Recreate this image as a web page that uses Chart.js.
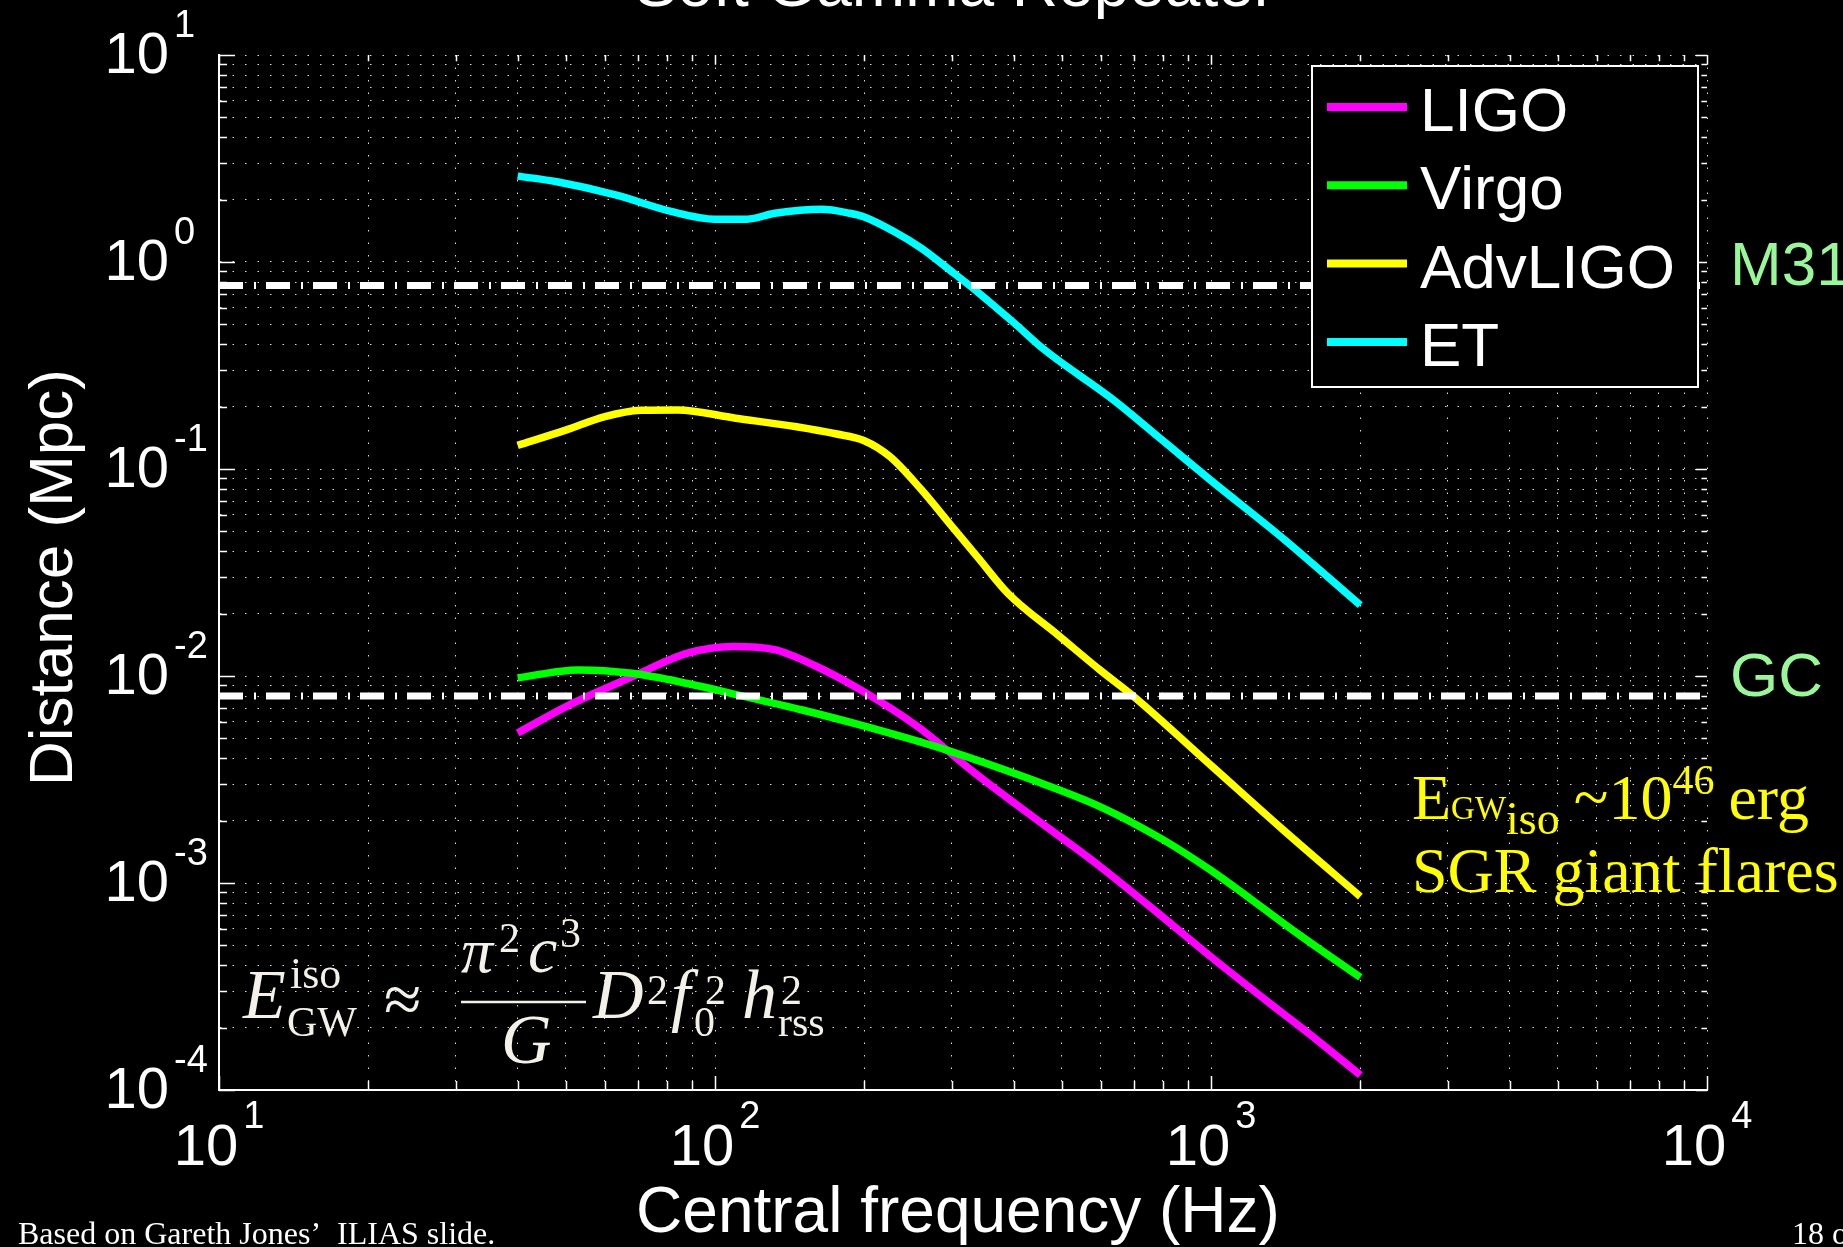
<!DOCTYPE html>
<html lang="en">
<head>
<meta charset="UTF-8">
<title>Soft Gamma Repeater</title>
<script src="https://cdn.jsdelivr.net/npm/chart.js"></script>
<style>
  html, body { margin: 0; padding: 0; background: #000; }
  #wrap { width: 1843px; height: 1247px; }
</style>
</head>
<body>
<div id="wrap"><canvas id="chart" width="1843" height="1247"></canvas></div>
<script>
// values (frequency in Hz, distance in Mpc)
const ligoFreq = [40, 50, 68, 88, 109, 132, 158, 196, 256, 334, 436, 585, 753, 1000, 1294, 1633, 2000];
const ligoDist = [5.3e-3, 7.1e-3, 9.9e-3, 1.29e-2, 1.39e-2, 1.34e-2, 1.13e-2, 8.6e-3, 5.7e-3, 3.4e-3, 2.1e-3, 1.25e-3, 7.7e-4, 4.4e-4, 2.7e-4, 1.75e-4, 1.18e-4];

const virgoFreq = [40, 53, 68, 88, 115, 150, 196, 292, 436, 597, 800, 1000, 1200, 1510, 2000];
const virgoDist = [9.8e-3, 1.07e-2, 1.03e-2, 9.2e-3, 7.95e-3, 6.85e-3, 5.8e-3, 4.4e-3, 3.15e-3, 2.34e-3, 1.62e-3, 1.15e-3, 8.4e-4, 5.6e-4, 3.5e-4];

const advFreq = [40, 50, 60, 71, 84, 110, 146, 175, 200, 225, 260, 300, 340, 390, 491, 600, 697, 1000, 1400, 2000];
const advDist = [0.13, 0.154, 0.179, 0.192, 0.193, 0.176, 0.160, 0.148, 0.137, 0.115, 0.08, 0.053, 0.037, 0.025, 0.0158, 0.0106, 0.008, 0.0037, 0.0018, 8.6e-4];

const etFreq = [40, 48, 63, 82, 100, 116, 132, 164, 187, 200, 230, 260, 300, 340, 400, 462, 637, 800, 1000, 1400, 2000];
const etDist = [2.6, 2.44, 2.11, 1.75, 1.61, 1.61, 1.72, 1.80, 1.72, 1.65, 1.40, 1.17, 0.90, 0.71, 0.51, 0.376, 0.215, 0.137, 0.088, 0.046, 0.022];

const seriesLabels = ['LIGO', 'Virgo', 'AdvLIGO', 'ET'];
const seriesColors = ['#ff00ff', '#00ff00', '#ffff00', '#00ffff'];

const refNames = ['M31', 'GC'];
const refDist = [0.77, 0.008];

const xTickExps = [1, 2, 3, 4];
const yTickExps = [1, 0, -1, -2, -3, -4];

const SANS = "'Liberation Sans', Arial, Helvetica, sans-serif";
const SERIF = "'Liberation Serif', 'Times New Roman', serif";

function logTicks(minExp, maxExp) {
    const t = [];
    for (let e = minExp; e < maxExp; e++) {
        for (let m = 1; m < 10; m++) t.push({ value: m * Math.pow(10, e) });
    }
    t.push({ value: Math.pow(10, maxExp) });
    return t;
}
const isMajor = v => Math.abs(Math.log10(v) - Math.round(Math.log10(v))) < 1e-9;

const pairs = (fs, ds) => fs.map((f, i) => ({ x: f, y: ds[i] }));

const curveData = [pairs(ligoFreq, ligoDist), pairs(virgoFreq, virgoDist), pairs(advFreq, advDist), pairs(etFreq, etDist)];

const datasets = [];
refDist.forEach((d, i) => {
    datasets.push({
        label: refNames[i],
        data: [{ x: 10, y: d }, { x: 10000, y: d }],
        borderColor: '#ffffff',
        borderWidth: 7,
        borderDash: [24, 11, 2, 10],
        borderCapStyle: 'butt',
        pointRadius: 0,
        order: 0
    });
});
seriesLabels.forEach((name, i) => {
    datasets.push({
        label: name,
        data: curveData[i],
        borderColor: seriesColors[i],
        borderWidth: 7.5,
        pointRadius: 0,
        cubicInterpolationMode: 'monotone',
        order: 4 - i
    });
});

// write text pieces one after another, return end x
function runs(ctx, parts, x, y, color) {
    let cx = x;
    ctx.fillStyle = color;
    ctx.textAlign = 'left';
    ctx.textBaseline = 'alphabetic';
    for (const p of parts) {
        ctx.font = p.font;
        const px = p.x !== undefined ? p.x : cx;
        ctx.fillText(p.t, px, y + (p.dy || 0));
        cx = px + ctx.measureText(p.t).width + (p.gap || 0);
    }
    return cx;
}

const decor = {
    id: 'decor',
    afterDraw(chart) {
        const ctx = chart.ctx;
        const xs = chart.scales.x, ys = chart.scales.y;
        const area = chart.chartArea;
        ctx.save();

        // inward tick marks
        ctx.strokeStyle = '#ffffff';
        ctx.lineWidth = 1.5;
        ctx.beginPath();
        xs.ticks.forEach(t => {
            const px = Math.round(xs.getPixelForValue(t.value)) + 0.5;
            const len = isMajor(t.value) ? 14 : 9;
            ctx.moveTo(px, area.bottom); ctx.lineTo(px, area.bottom - len);
            ctx.moveTo(px, area.top); ctx.lineTo(px, area.top + len * 0.7);
        });
        ys.ticks.forEach(t => {
            const py = Math.round(ys.getPixelForValue(t.value)) + 0.5;
            const len = isMajor(t.value) ? 16 : 8;
            ctx.moveTo(area.left, py); ctx.lineTo(area.left + len, py);
            ctx.moveTo(area.right, py); ctx.lineTo(area.right - len * 0.7, py);
        });
        ctx.stroke();

        // tick labels 10^k
        ctx.fillStyle = '#ffffff';
        ctx.textBaseline = 'alphabetic';
        xTickExps.forEach(e => {
            const px = xs.getPixelForValue(Math.pow(10, e));
            ctx.font = `58px ${SANS}`;
            const w1 = ctx.measureText('10').width;
            ctx.font = `38px ${SANS}`;
            const w2 = ctx.measureText(String(e)).width;
            const x0 = px - (w1 + 5 + w2) / 2;
            runs(ctx, [{ t: '10', font: `58px ${SANS}`, gap: 5 }, { t: String(e), font: `38px ${SANS}`, dy: -37 }], x0, area.bottom + 75, '#ffffff');
        });
        yTickExps.forEach(e => {
            const py = ys.getPixelForValue(Math.pow(10, e));
            ctx.font = `58px ${SANS}`;
            ctx.textAlign = 'right';
            ctx.fillText('10', area.left - 50, py + 18);
            ctx.textAlign = 'left';
            ctx.font = `38px ${SANS}`;
            ctx.fillText(e < 0 ? '-' + Math.abs(e) : String(e), area.left - 45, py - 18);
        });

        // titles
        ctx.textAlign = 'center';
        ctx.font = `64px ${SANS}`;
        ctx.fillText('Soft Gamma Repeater', 955, 6);
        ctx.fillText('Central frequency (Hz)', (area.left + area.right) / 2 - 5, 1232);
        ctx.save();
        ctx.translate(72, (area.top + area.bottom) / 2 + 5);
        ctx.rotate(-Math.PI / 2);
        ctx.font = `62px ${SANS}`;
        ctx.fillText('Distance (Mpc)', 0, 0);
        ctx.restore();

        // legend box
        const lx = 1312, ly = 66, lw = 386, lh = 321;
        ctx.fillStyle = '#000000';
        ctx.fillRect(lx, ly, lw, lh);
        ctx.strokeStyle = '#ffffff';
        ctx.lineWidth = 2;
        ctx.strokeRect(lx, ly, lw, lh);
        seriesLabels.forEach((name, i) => {
            const yy = 107 + i * 78.3;
            ctx.strokeStyle = seriesColors[i];
            ctx.lineWidth = 8;
            ctx.beginPath();
            ctx.moveTo(lx + 15, yy); ctx.lineTo(lx + 95, yy);
            ctx.stroke();
            ctx.fillStyle = '#ffffff';
            ctx.textAlign = 'left';
            ctx.font = `62px ${SANS}`;
            ctx.fillText(name, lx + 108, yy + 24);
        });

        // reference line labels
        ctx.fillStyle = '#99f799';
        ctx.font = `62px ${SANS}`;
        ctx.textAlign = 'left';
        refNames.forEach((n, i) => {
            ctx.fillText(n, 1730, ys.getPixelForValue(refDist[i]));
        });

        // yellow annotation
        const Y = '#ffff00';
        runs(ctx, [
            { t: 'E', font: `64px ${SERIF}` },
            { t: 'GW', font: `33px ${SERIF}` },
            { t: 'iso', font: `46px ${SERIF}`, dy: 15, gap: 14 },
            { t: '~10', font: `64px ${SERIF}` },
            { t: '46', font: `42px ${SERIF}`, dy: -25, gap: 14 },
            { t: 'erg', font: `64px ${SERIF}` }
        ], 1412, 819, Y);
        runs(ctx, [{ t: 'SGR giant flares', font: `64px ${SERIF}` }], 1412, 892, Y);

        // formula
        const F = '#f4f1e8';
        const it = s => `italic ${s}px ${SERIF}`;
        const rm = s => `${s}px ${SERIF}`;
        runs(ctx, [
            { t: 'E', font: it(70), x: 243 },
            { t: 'iso', font: rm(44), x: 290, dy: -30 },
            { t: 'GW', font: rm(42), x: 287, dy: 18 },
            { t: '\u2248', font: rm(68), x: 384, dy: 4 },
            { t: 'D', font: it(70), x: 593 },
            { t: '2', font: rm(42), x: 647, dy: -14 },
            { t: 'f', font: it(70), x: 671 },
            { t: '0', font: rm(42), x: 694, dy: 18 },
            { t: '2', font: rm(42), x: 705, dy: -14 },
            { t: 'h', font: it(70), x: 742 },
            { t: 'rss', font: rm(42), x: 778, dy: 18 },
            { t: '2', font: rm(42), x: 781, dy: -14 }
        ], 243, 1018, F);
        runs(ctx, [
            { t: '\u03c0', font: it(64), x: 461 },
            { t: '2', font: rm(42), x: 499, dy: -20 },
            { t: 'c', font: it(66), x: 528 },
            { t: '3', font: rm(42), x: 560, dy: -25 }
        ], 461, 972, F);
        runs(ctx, [{ t: 'G', font: it(70), x: 501 }], 501, 1063, F);
        ctx.strokeStyle = F;
        ctx.lineWidth = 2.5;
        ctx.beginPath();
        ctx.moveTo(461, 1002); ctx.lineTo(586, 1002);
        ctx.stroke();

        // footer
        runs(ctx, [{ t: 'Based on Gareth Jones\u2019  ILIAS slide.', font: `32px ${SERIF}` }], 18, 1244, '#ffffff');
        runs(ctx, [{ t: '18 of 31', font: `32px ${SERIF}` }], 1792, 1244, '#ffffff');

        ctx.restore();
    }
};

const gridOpts = { color: 'rgba(255,255,255,0.85)', lineWidth: 1, drawTicks: false };
const borderOpts = { display: true, color: '#ffffff', width: 2, dash: [1.5, 11] };

new Chart(document.getElementById('chart').getContext('2d'), {
    type: 'line',
    data: { datasets },
    options: {
        responsive: false,
        animation: false,
        devicePixelRatio: 1,
        layout: { padding: { top: 55, right: 136, left: 0, bottom: 0 } },
        plugins: {
            legend: { display: false },
            title: { display: false },
            tooltip: { enabled: false }
        },
        scales: {
            x: {
                type: 'logarithmic',
                min: 10,
                max: 10000,
                afterBuildTicks: s => { s.ticks = logTicks(1, 4); },
                afterFit: s => { s.height = 157; },
                ticks: { display: false },
                grid: gridOpts,
                border: borderOpts
            },
            y: {
                type: 'logarithmic',
                min: 1e-4,
                max: 10,
                afterBuildTicks: s => { s.ticks = logTicks(-4, 1); },
                afterFit: s => { s.width = 219; },
                ticks: { display: false },
                grid: gridOpts,
                border: borderOpts
            }
        }
    },
    plugins: [decor]
});
</script>
</body>
</html>
